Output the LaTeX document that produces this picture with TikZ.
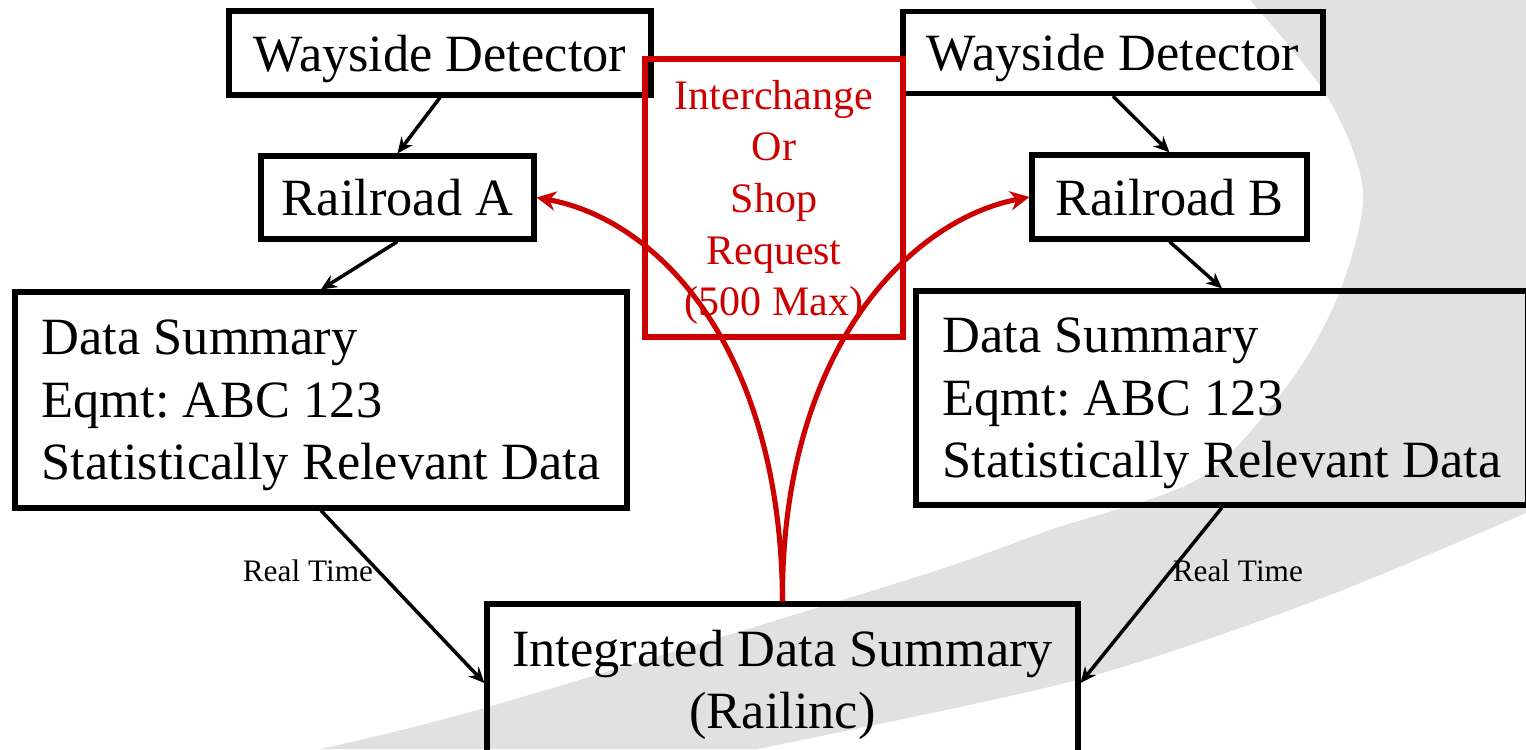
\documentclass[tikz,border=0pt]{standalone}
\usepackage{fontspec}
\setmainfont{Liberation Serif}
\usetikzlibrary{arrows.meta}

\definecolor{reqred}{RGB}{204,0,0}
\definecolor{swoosh}{RGB}{225,225,225}
\newcommand\boxfont{\fontsize{14.9}{17.8}\selectfont}
\newcommand\reqfont{\fontsize{11.95}{14.7}\selectfont}
\newcommand\timefont{\fontsize{8.9}{10.5}\selectfont}
\frenchspacing

\tikzset{
  box/.style={draw, line width=1.45pt, inner sep=0pt, text depth=0pt, font=\boxfont},
  flow/.style={-{Stealth[length=4.5pt,width=4pt]}, line width=1pt},
  request/.style={draw=reqred, line width=1.45pt, -{Stealth[length=5.5pt,width=5.5pt]}}
}

\begin{document}
\begin{tikzpicture}
  \useasboundingbox (0,0) rectangle (15.26,7.49);
  \clip (0,0) rectangle (15.26,7.49);

  % grey swoosh behind everything
  \fill[swoosh] plot[smooth] coordinates {(12.50,7.49) (13.27,6.53) (13.63,5.58)
    (13.40,4.58) (12.90,3.67) (12.00,2.71) (10.50,2.19) (9.07,1.69) (4.88,0.42) (3.20,0)}
  -- plot[smooth] coordinates {(7.57,0) (10.77,0.69) (13.17,1.49) (15.26,2.36)}
  -- (15.26,7.49) -- cycle;

  % railroad A side
  \node[box, minimum width=4.22cm, minimum height=0.84cm] (wda) at (4.40,6.96)
    {Wayside Detector};
  \node[box, minimum width=2.73cm, minimum height=0.83cm] (rra) at (3.975,5.515)
    {Railroad A};
  \node[box, minimum width=6.12cm, minimum height=2.16cm, align=left] (dsa) at (3.21,3.49)
    {Data Summary\\Eqmt: ABC 123\\Statistically Relevant Data};

  % railroad B side
  \node[box, minimum width=4.20cm, minimum height=0.82cm] (wdb) at (11.13,6.965)
    {Wayside Detector};
  \node[box, minimum width=2.75cm, minimum height=0.84cm] (rrb) at (11.695,5.52)
    {Railroad B};
  \node[box, minimum width=6.12cm, minimum height=2.14cm, align=left] (dsb) at (12.22,3.51)
    {Data Summary\\Eqmt: ABC 123\\Statistically Relevant Data};

  \node[box, text depth=0.07cm, minimum width=5.91cm, minimum height=1.58cm, align=center]
    (ids) at (7.825,0.66) {Integrated Data Summary\\(Railinc)};

  \node[draw=reqred, text=reqred, line width=1.45pt, inner sep=0pt, text depth=0pt,
    font=\reqfont, align=center, minimum width=2.58cm, minimum height=2.78cm] (req)
    at (7.74,5.51) {Interchange\\Or\\Shop\\Request\\(500 Max)};

  \draw[flow] (wda.south) -- (rra.north);
  \draw[flow] (rra.south) -- (dsa.north);
  \draw[flow] (wdb.south) -- (rrb.north);
  \draw[flow] (rrb.south) -- (dsb.north);
  \draw[flow] (dsa.south) -- (ids.west)
    node[pos=0.35, anchor=east, inner sep=1pt, font=\timefont] (rta) {Real Time};
  \draw[flow] (dsb.south) -- (ids.east)
    node[pos=0.36, anchor=west, inner sep=0pt, font=\timefont] (rtb) {Real Time};

  \draw[request] (ids.north) .. controls (7.81,3.99) and (6.60,5.29) .. (rra.east);
  \draw[request] (ids.north) .. controls (7.81,3.99) and (9.10,5.29) .. (rrb.west);
\end{tikzpicture}
\end{document}
